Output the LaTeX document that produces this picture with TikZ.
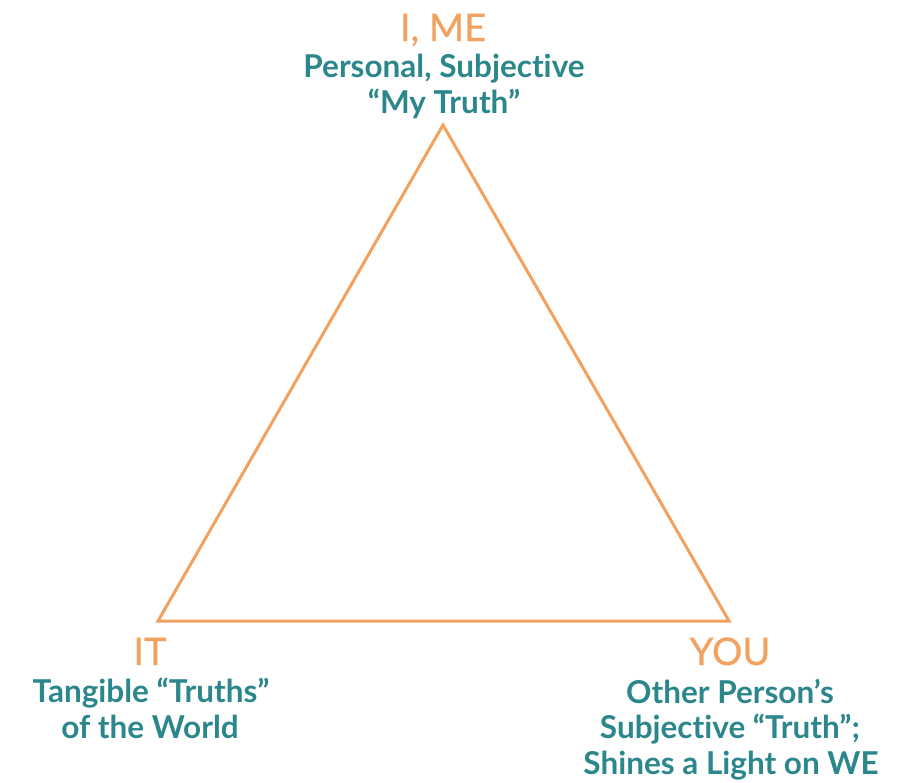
\documentclass[tikz,border=0pt]{standalone}
\usepackage{fontspec}
\setmainfont{Lato}[Ligatures={NoCommon}]
\newfontfamily\headfont{Lato}[Ligatures={NoCommon},BoldFont={Lato},BoldFeatures={FakeBold=0.6}]
\definecolor{tri}{HTML}{F3A15E}
\definecolor{teal2}{HTML}{2B878C}
\begin{document}
\begin{tikzpicture}[x=1pt,y=-1pt,
  head/.style={text=tri, font=\headfont\bfseries\fontsize{38}{38}\selectfont, anchor=base, inner sep=0pt},
  desc/.style={text=teal2, font=\bfseries\fontsize{31.5}{31.5}\selectfont, anchor=base, inner sep=0pt},
  edge/.style={draw=tri, line width=3pt, line join=miter}]
\useasboundingbox (0,0) rectangle (907,782);
\coordinate (top) at (443,125);
\coordinate (left) at (158,621);
\coordinate (right) at (729,621);
\draw[edge] (top) -- (left) -- (right) -- cycle;
\node[head] (ime) at (443,41) {I, ME};
\node[desc] (ime1) at (444,77) {Personal, Subjective};
\node[desc] (ime2) at (444,113) {“My Truth”};
\node[head] (it) at (150,665) {IT};
\node[desc] (it1) at (151,702) {Tangible “Truths”};
\node[desc] (it2) at (150,738) {of the World};
\node[head] (you) at (730,665) {YOU};
\node[desc] (you1) at (730,703) {Other Person’s};
\node[desc] (you2) at (730,738) {Subjective “Truth”;};
\node[desc] (you3) at (731,774) {Shines a Light on WE};
\end{tikzpicture}
\end{document}
